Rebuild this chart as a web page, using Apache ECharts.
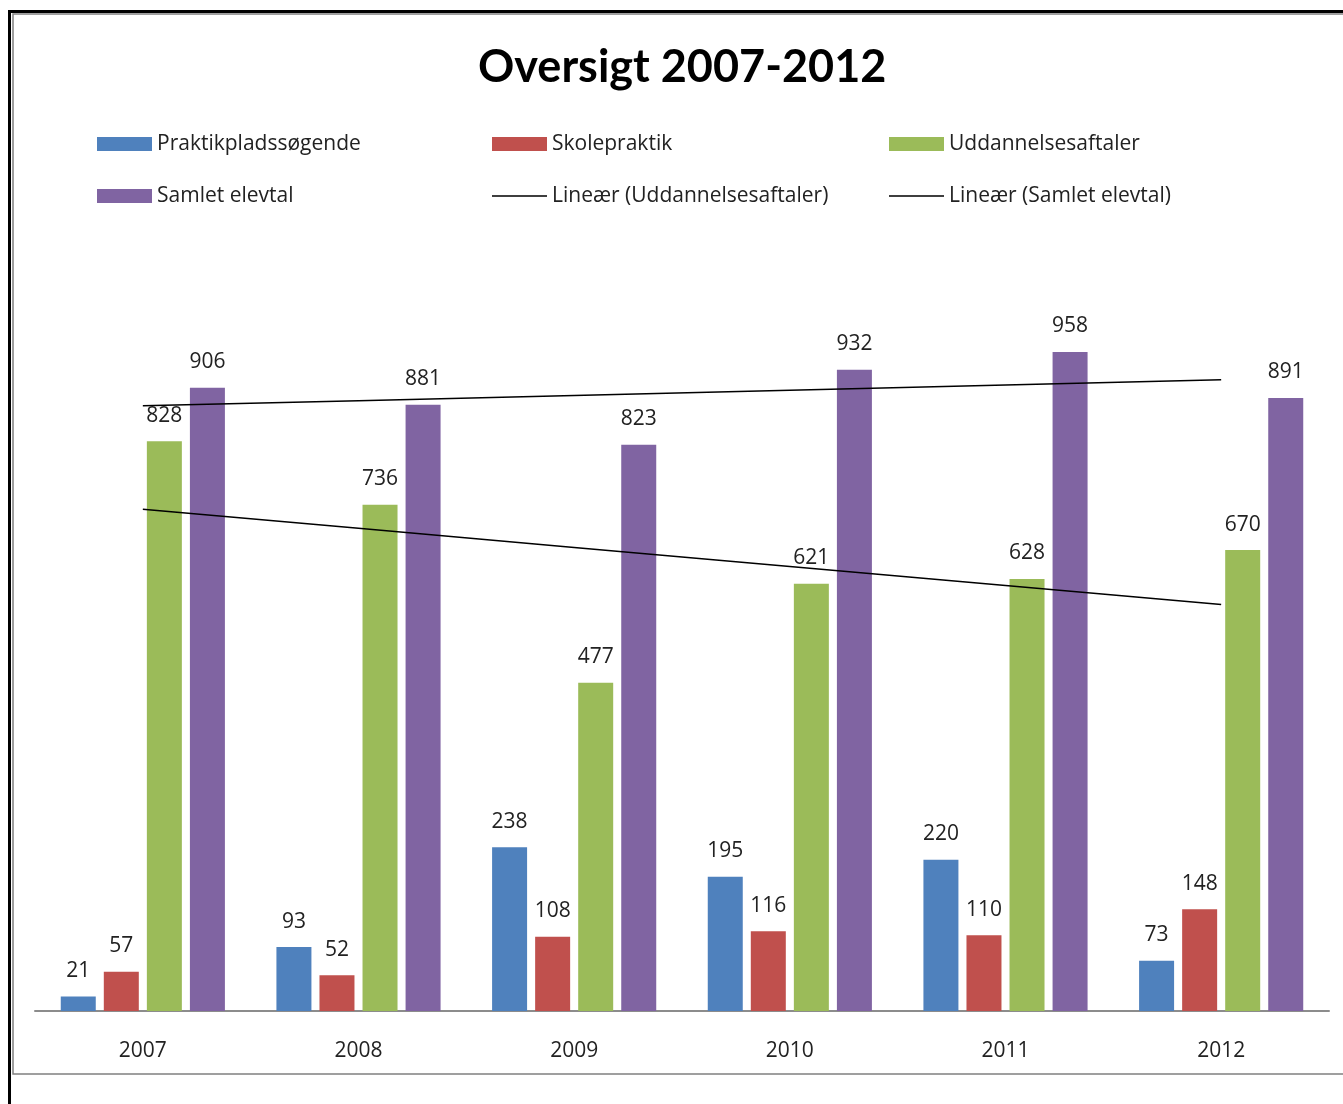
<!DOCTYPE html>
<html>
<head>
<meta charset="utf-8">
<script src="https://cdn.jsdelivr.net/npm/echarts@6/dist/echarts.min.js"></script>
<style>
html,body{margin:0;padding:0;background:#fff;}
#chart{width:1343px;height:1104px;}
</style>
</head>
<body>
<div id="chart"></div>
<script>
const years = ['2007', '2008', '2009', '2010', '2011', '2012'];
const praktikpladssogende = [21, 93, 238, 195, 220, 73];
const skolepraktik = [57, 52, 108, 116, 110, 148];
const uddannelsesaftaler = [828, 736, 477, 621, 628, 670];
const samletElevtal = [906, 881, 823, 932, 958, 891];

function linearTrend(values) {
  const n = values.length;
  let sx = 0, sy = 0, sxx = 0, sxy = 0;
  values.forEach((v, i) => { const x = i + 1; sx += x; sy += v; sxx += x * x; sxy += x * v; });
  const slope = (n * sxy - sx * sy) / (n * sxx - sx * sx);
  const icpt = (sy - slope * sx) / n;
  return values.map((v, i) => +(icpt + slope * (i + 1)).toFixed(2));
}

const FONT = 'Open Sans';
const TXT = '#222';
const labelStyle = { show: true, position: 'top', distance: 15, fontSize: 21, color: TXT, fontFamily: FONT };
const LINE_ICON = 'path://M0,0H0.01V0.01H0Z M0,6.3H55V7.7H0Z M54.99,13.99H55V14H54.99Z';

const chart = echarts.init(document.getElementById('chart'), null, { renderer: 'canvas' });
const legendBase = {
  orient: 'vertical', top: 127, itemWidth: 55, itemHeight: 14, itemGap: 28,
  textStyle: { fontSize: 21, color: TXT, fontFamily: FONT, lineHeight: 24 },
  selectedMode: false
};
chart.setOption({
  animation: false,
  backgroundColor: '#fff',
  title: {
    text: 'Oversigt 2007-2012', left: 473, top: 40,
    textStyle: { fontSize: 45, fontWeight: 'bold', color: '#000', fontFamily: 'Lato' }
  },
  legend: [
    Object.assign({}, legendBase, { left: 92, data: [{ name: 'Praktikpladssøgende', icon: 'rect' }, { name: 'Samlet elevtal', icon: 'rect' }] }),
    Object.assign({}, legendBase, { left: 487, data: [{ name: 'Skolepraktik', icon: 'rect' }, { name: 'Lineær (Uddannelsesaftaler)', icon: LINE_ICON }] }),
    Object.assign({}, legendBase, { left: 884, data: [{ name: 'Uddannelsesaftaler', icon: 'rect' }, { name: 'Lineær (Samlet elevtal)', icon: LINE_ICON }] })
  ],
  grid: { left: 35, right: 14, top: 323, bottom: 93, containLabel: false },
  xAxis: {
    type: 'category', data: years,
    axisLine: { lineStyle: { color: '#8c8c8c', width: 2 } },
    axisTick: { show: false },
    axisLabel: { fontSize: 21, color: TXT, fontFamily: FONT, margin: 30 }
  },
  yAxis: { type: 'value', min: 0, max: 1000, show: false, splitLine: { show: false } },
  graphic: [
    { type: 'rect', shape: { x: 9.5, y: 11.5, width: 1500, height: 1200 }, style: { fill: 'none', stroke: '#000', lineWidth: 3 }, silent: true, z: 100 },
    { type: 'rect', shape: { x: 13, y: 14, width: 1500, height: 1060 }, style: { fill: 'none', stroke: '#808080', lineWidth: 1.5 }, silent: true, z: 100 }
  ],
  series: [
    { name: 'Praktikpladssøgende', type: 'bar', data: praktikpladssogende, barWidth: 35, barGap: '23%', itemStyle: { color: '#4F81BD' }, label: labelStyle },
    { name: 'Skolepraktik', type: 'bar', data: skolepraktik, barWidth: 35, barGap: '23%', itemStyle: { color: '#C0504D' }, label: labelStyle },
    { name: 'Uddannelsesaftaler', type: 'bar', data: uddannelsesaftaler, barWidth: 35, barGap: '23%', itemStyle: { color: '#9BBB59' }, label: labelStyle },
    { name: 'Samlet elevtal', type: 'bar', data: samletElevtal, barWidth: 35, barGap: '23%', itemStyle: { color: '#8064A2' }, label: labelStyle },
    { name: 'Lineær (Uddannelsesaftaler)', type: 'line', data: linearTrend(uddannelsesaftaler), symbol: 'none', z: 5, lineStyle: { color: '#000', width: 1.5 }, itemStyle: { color: '#000' } },
    { name: 'Lineær (Samlet elevtal)', type: 'line', data: linearTrend(samletElevtal), symbol: 'none', z: 5, lineStyle: { color: '#000', width: 1.5 }, itemStyle: { color: '#000' } }
  ]
});
</script>
</body>
</html>
